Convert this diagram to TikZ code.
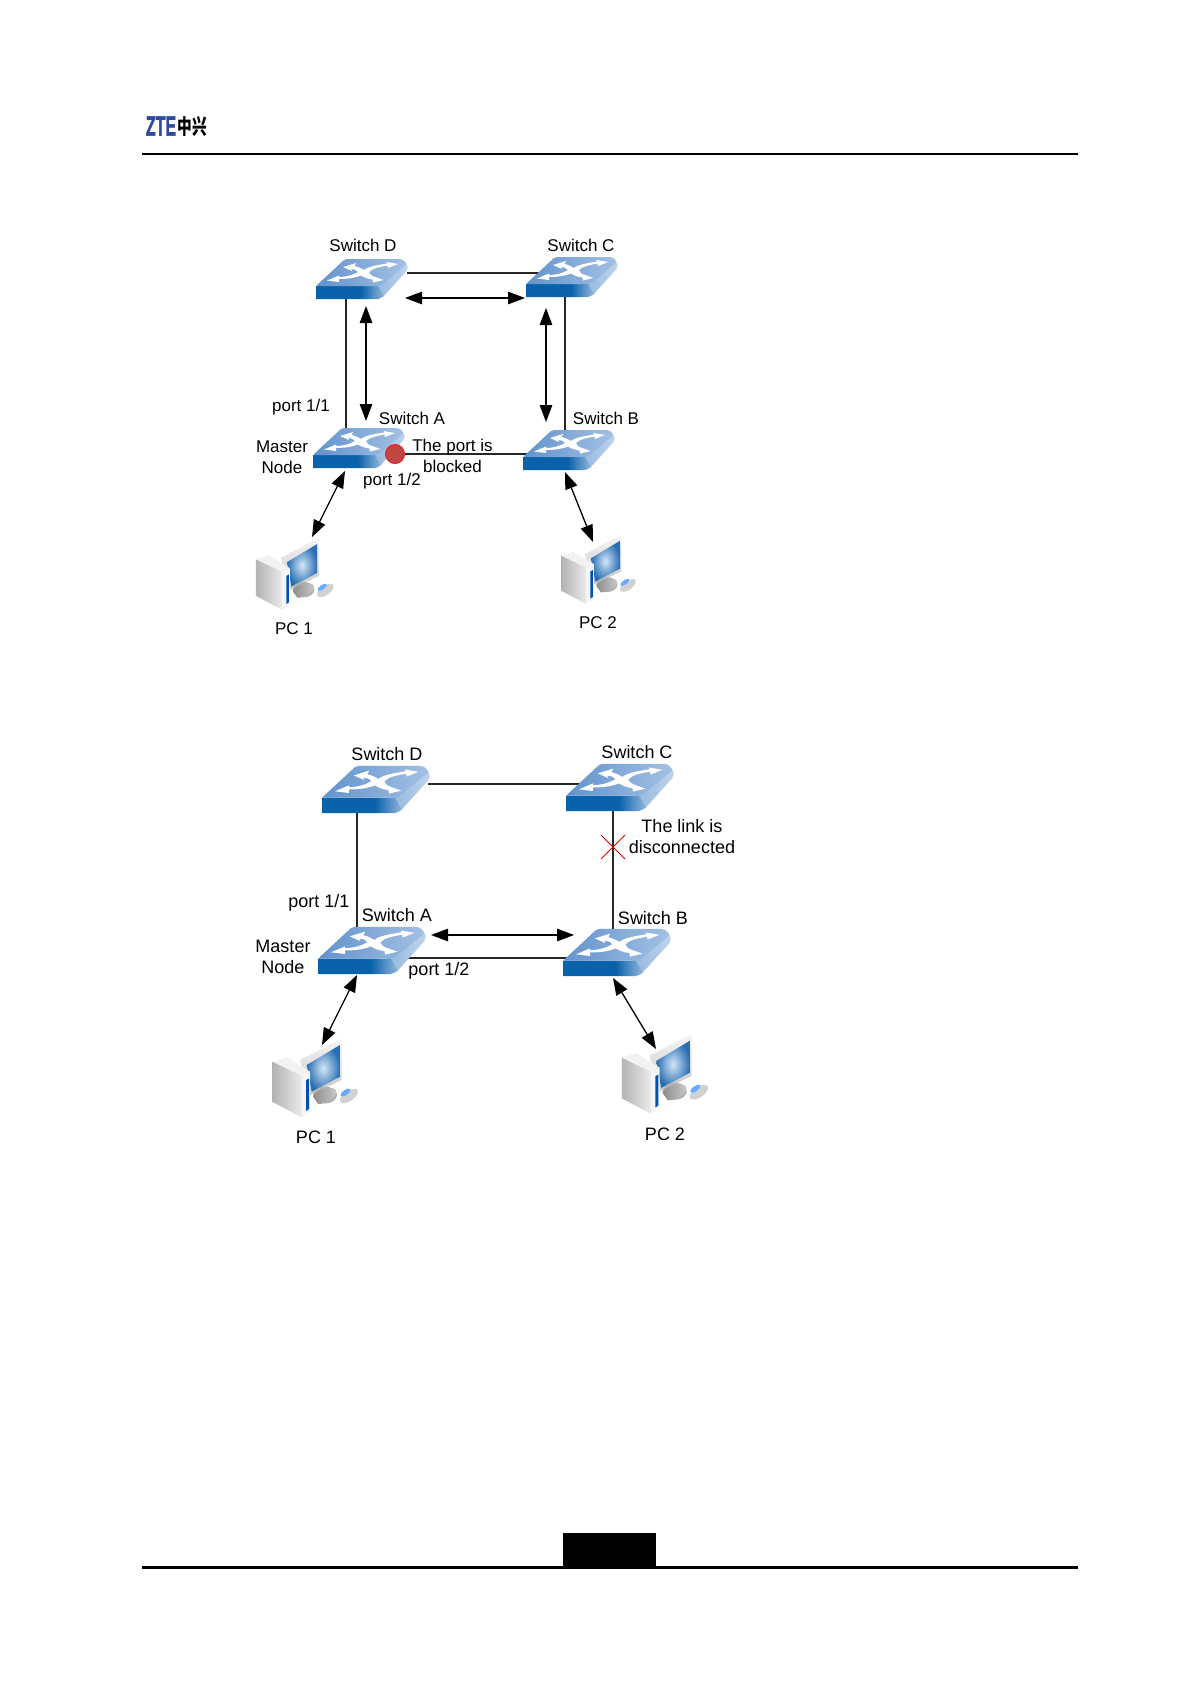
\documentclass[tikz,border=0pt]{standalone}
\usepackage{fontspec}
\setmainfont{Liberation Sans}
\newfontfamily\cjk{Noto Sans CJK SC}
\newfontfamily\ztefont[FakeBold=2]{Liberation Sans Bold}
\usetikzlibrary{arrows.meta}

\definecolor{swfront}{HTML}{0A62AA}
\definecolor{swlight}{HTML}{93B7DE}
\definecolor{swtop}{HTML}{6292CC}
\definecolor{swtopr}{HTML}{A3C1E4}
\definecolor{ztblue}{HTML}{2E4A9E}
\pgfdeclarehorizontalshading{frontshade}{100bp}{color(0bp)=(swfront); color(25bp)=(swfront); color(58bp)=(swfront); color(75bp)=(swlight); color(100bp)=(swlight)}

\tikzset{
	lbl/.style={font=\fontsize{17}{20.5}\selectfont,align=center,inner sep=0pt},
	lblb/.style={font=\fontsize{18}{21}\selectfont,align=center,inner sep=0pt},
	link/.style={line width=1.1pt,draw=black!85},
	dbl/.style={line width=1.3pt,{Triangle[length=17pt,width=12.5pt]}-{Triangle[length=17pt,width=12.5pt]}},
	switchicon/.pic={
		% side, front, top
		\shade[left color=swlight,right color=swtopr!70!white,rounded corners=2pt] (58,-13) -- (86,-40) -- (91.5,-34) -- (91.5,-29) -- (66,-1) -- (60,0) -- cycle;
		\shade[shading=frontshade] (0,0) -- (0,-13) -- (62,-13) -- (68,-3) -- (62,0) -- cycle;
		\shade[left color=swtop,right color=swtopr,rounded corners=2pt] (0,-13) -- (29,-40) -- (86,-40) -- (91,-35) -- (64,-13) -- cycle;
		\fill[white] (27,-32) -- (40,-36) -- (38.5,-33) .. controls (43,-32) and (45,-30.5) .. (48,-29)
			.. controls (52,-32.5) and (62,-34) .. (71,-35.5) -- (70.5,-37) -- (82,-35) -- (72,-31) -- (71.5,-33.5)
			.. controls (64,-32) and (57,-31) .. (53,-27) .. controls (54,-25) and (55,-23.5) .. (56.5,-23)
			-- (67.5,-19) -- (57,-16.5) -- (56.5,-19.5) .. controls (52,-20) and (48,-21.5) .. (45,-23.5)
			.. controls (39,-21) and (31,-20) .. (23,-20) -- (23,-17) -- (11,-18.5) -- (23,-23.5) -- (23,-22)
			.. controls (30,-22) and (37,-24) .. (42,-27) .. controls (41,-29) and (38,-30) .. (35,-30) -- (36,-28) -- cycle;
	},
	pcicon/.pic={
		% monitor, stand, mouse, tower
		\shade[top color=black!4,bottom color=black!22] (40,30) -- (81.7,8.3) -- (81.7,50) -- (50,65) -- cycle;
		\shade[inner color={rgb,255:red,210;green,230;blue,247},outer color={rgb,255:red,40;green,110;blue,178}] (46.7,35) -- (80,15) -- (80,46.7) -- (51.7,61.7) -- cycle;
		\fill[black!30] (65,65) ellipse (12 and 8.5);
		\shade[left color=black!45,right color=black!20] (53,66) .. controls (58,58) and (72,56) .. (76,60) .. controls (78,68) and (66,74) .. (58,74) -- cycle;
		\shade[left color=black!30,right color=black!8] (12.7,31.7) -- (41.7,45.5) -- (41.7,87.3) -- (12.7,72) -- cycle;
		\fill[black!5] (12.7,31.7) -- (27,27.5) -- (50,41.5) -- (41.7,45.5) -- cycle;
		\fill[black!4] (41.7,45.5) -- (50,41.5) -- (50,81.5) -- (41.7,87.3) -- cycle;
		\fill[blue!55!cyan!70!black] (46,50) -- (49,48.5) -- (49,79) -- (46,81) -- cycle;
		\fill[black!18,rotate around={35:(89,66)}] (89,66) ellipse (10.5 and 5);
		\fill[blue!55!cyan!60,rotate around={35:(85.5,62.5)}] (85.5,62.5) ellipse (6 and 2.5);
	},
}

\begin{document}
\begin{tikzpicture}[x=1pt,y=-1pt]
\useasboundingbox (0,0) rectangle (1191,1684);
\fill[white] (0,0) rectangle (1191,1684);
%
% page furniture
\draw[line width=2pt] (142,153.5) -- (1078,153.5);
\draw[line width=3pt] (142,1567) -- (1078,1567);
\fill[black] (563,1533) rectangle (656,1567);
\node[font=\fontsize{28}{28}\ztefont\selectfont,text=ztblue,xscale=.57,inner sep=0pt] (logoa) at (161,126) {ZTE};
\node[font=\fontsize{21}{21}\cjk\bfseries\selectfont,xscale=.7,inner sep=0pt] (logob) at (192.5,126) {中兴};
%
% first ring: ports
\coordinate (pDe) at (407,273);
\coordinate (pCw) at (540,273);
\coordinate (pDs) at (346,290);
\coordinate (pAn) at (346,435);
\coordinate (pCs) at (565,290);
\coordinate (pBn) at (565,435);
\coordinate (pAe) at (395,454);
\coordinate (pBw) at (530,454);
\draw[link] (pDe) -- (pCw);
\draw[link] (pDs) -- (pAn);
\draw[link] (pCs) -- (pBn);
\draw[link] (pAe) -- (pBw);
\foreach \px/\py/\sc in {316/299/1, 526/297/1, 313/468/1, 523/470/1}
	\pic[scale=\sc] at (\px,\py) {switchicon};
\foreach \px/\py/\sc in {244.4/530.4/.91, 550/527.7/.875}
	\pic[scale=\sc] at (\px,\py) {pcicon};
\node[circle,draw={rgb,255:red,225;green,35;blue,45},fill={rgb,255:red,192;green,70;blue,65},line width=1pt,minimum size=19pt,inner sep=0pt] (blocked) at (395,454) {};
%
\coordinate (aDCa) at (405,298);
\coordinate (aDCb) at (525,298);
\coordinate (aDAa) at (366,306);
\coordinate (aDAb) at (366,421);
\coordinate (aCBa) at (546,308);
\coordinate (aCBb) at (546,422);
\coordinate (aPAa) at (345,471);
\coordinate (aPAb) at (312,537);
\coordinate (aPBa) at (565,472);
\coordinate (aPBb) at (593,542);
\draw[dbl] (aDCa) -- (aDCb);
\draw[dbl] (aDAa) -- (aDAb);
\draw[dbl] (aCBa) -- (aCBb);
\draw[dbl] (aPAa) -- (aPAb);
\draw[dbl] (aPBa) -- (aPBb);
%
\foreach \nm/\px/\py/\tx in {lD/363/245/Switch D, lC/581/245/Switch C, lA/412/418/Switch A, lB/606/418/Switch B,
	lP/301/407/port 1\slash 1, lQ/392/481/port 1\slash 2, lM/282/457/Master\\Node, lT/452.5/456/The port is\\blocked,
	lU/294/628.5/PC 1, lV/598/623/PC 2}
	\node[lbl,name=\nm] at (\px,\py) {\tx};
%
% second ring: ports
\coordinate (qDe) at (428,784);
\coordinate (qCw) at (585,784);
\coordinate (qDs) at (357,805);
\coordinate (qAn) at (357,935);
\coordinate (qCs) at (613,805);
\coordinate (qBn) at (613,935);
\coordinate (qAe) at (402,958);
\coordinate (qBw) at (570,958);
\coordinate (qXa) at (601,835);
\coordinate (qXb) at (625,859);
\coordinate (qXc) at (601,859);
\coordinate (qXd) at (625,835);
\draw[link] (qDe) -- (qCw);
\draw[link] (qDs) -- (qAn);
\draw[link] (qCs) -- (qBn);
\draw[link] (qAe) -- (qBw);
\draw[red!85!black,line width=.9pt] (qXa) -- (qXb);
\draw[red!85!black,line width=.9pt] (qXc) -- (qXd);
\foreach \px/\py/\sc in {322/813/1.176, 566/811/1.176, 318/974/1.176, 563/976/1.176}
	\pic[scale=\sc] at (\px,\py) {switchicon};
\foreach \px/\py/\sc in {260/1030/1, 609/1025.6/1.01}
	\pic[scale=\sc] at (\px,\py) {pcicon};
%
\coordinate (bABa) at (431,935);
\coordinate (bABb) at (574,935);
\coordinate (bPAa) at (357,975);
\coordinate (bPAb) at (322,1045);
\coordinate (bPBa) at (613,978);
\coordinate (bPBb) at (656,1049);
\draw[dbl] (bABa) -- (bABb);
\draw[dbl] (bPAa) -- (bPAb);
\draw[dbl] (bPBa) -- (bPBb);
%
\foreach \nm/\px/\py/\tx in {mD/387/754/Switch D, mC/637/752/Switch C, mA/397/915.5/Switch A, mB/653/918/Switch B,
	mP/319/902.5/port 1\slash 1, mQ/439/970.5/port 1\slash 2, mM/283/956.5/Master\\Node, mT/682/836.5/The link is\\disconnected,
	mU/316/1137/PC 1, mV/665/1134/PC 2}
	\node[lblb,name=\nm] at (\px,\py) {\tx};
\end{tikzpicture}
\end{document}
